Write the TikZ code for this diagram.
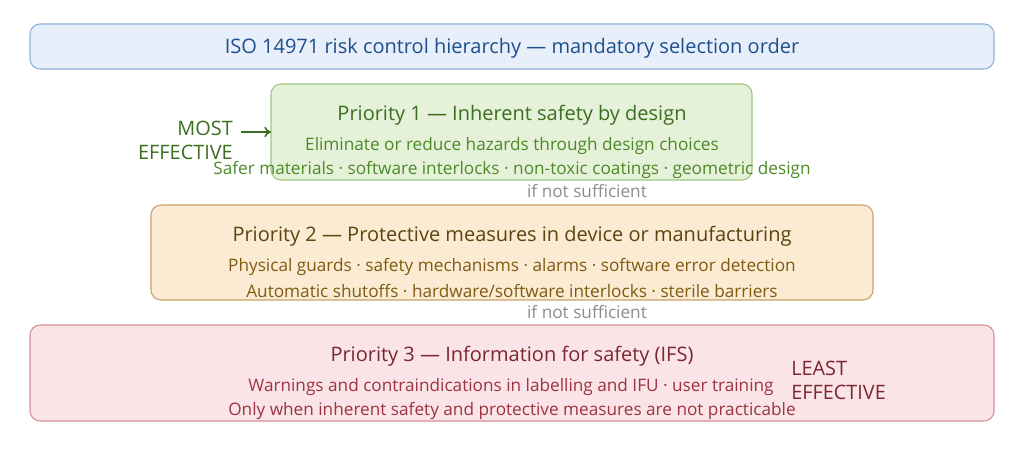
\documentclass[tikz,border=0pt]{standalone}
\usepackage{fontspec}
\setmainfont{Open Sans}
\usetikzlibrary{arrows.meta}
\definecolor{bfill}{HTML}{E7EFFA}
\definecolor{bdraw}{HTML}{8DB0DD}
\definecolor{btext}{HTML}{1F4E8C}
\definecolor{gfill}{HTML}{E6F1DA}
\definecolor{gdraw}{HTML}{9BC77C}
\definecolor{gtitle}{HTML}{3B6E1E}
\definecolor{gtext}{HTML}{4C8A27}
\definecolor{ofill}{HTML}{FBEBD2}
\definecolor{odraw}{HTML}{C8A26A}
\definecolor{otitle}{HTML}{5E4310}
\definecolor{otext}{HTML}{7F5B12}
\definecolor{rfill}{HTML}{FBE4E7}
\definecolor{rdraw}{HTML}{D58E96}
\definecolor{rtitle}{HTML}{7A2630}
\definecolor{rtext}{HTML}{9B3440}
\definecolor{note}{HTML}{8C8C8C}
\tikzset{
  panel/.style={rounded corners=7.5pt, line width=0.8pt},
  titletext/.style={font=\fontsize{15pt}{18pt}\selectfont, inner sep=0pt},
  subtext/.style={font=\fontsize{12.9pt}{15pt}\selectfont, inner sep=0pt},
  notetext/.style={font=\fontsize{12.9pt}{15pt}\selectfont, inner sep=0pt, text=note},
  sidetext/.style={font=\fontsize{14.9pt}{18pt}\selectfont, inner sep=0pt},
}
\begin{document}
\begin{tikzpicture}[x=0.75pt,y=-0.75pt]
\useasboundingbox (0,0) rectangle (1024,452);
% title
\draw[panel, fill=bfill, draw=bdraw] (30,24) rectangle (994,69);
\node[titletext, text=btext] (title) at (512,48) {ISO 14971 risk control hierarchy — mandatory selection order};
% priority 1
\draw[panel, fill=gfill, draw=gdraw] (271,84) rectangle (752,180);
\coordinate (p1w) at (271,132);
\node[titletext, text=gtitle] (p1t) at (512,115) {Priority 1 — Inherent safety by design};
\node[subtext, text=gtext] (p1a) at (512,146) {Eliminate or reduce hazards through design choices};
\node[subtext, text=gtext] (p1b) at (512,170) {Safer materials · software interlocks · non-toxic coatings · geometric design};
\node[notetext] (n1) at (587,191) {if not sufficient};
% most effective
\node[sidetext, text=gtitle, align=right, anchor=east] (most) at (233,140) {MOST\\EFFECTIVE};
\coordinate (arrs) at (241,132);
\draw[-{To[length=5pt,width=8pt]}, gtitle, line width=1.2pt] (arrs) -- (p1w);
% priority 2
\draw[panel, fill=ofill, draw=odraw] (151,205) rectangle (873,300);
\node[titletext, text=otitle] (p2t) at (512,236) {Priority 2 — Protective measures in device or manufacturing};
\node[subtext, text=otext] (p2a) at (512,267) {Physical guards · safety mechanisms · alarms · software error detection};
\node[subtext, text=otext] (p2b) at (512,291) {Automatic shutoffs · hardware/software interlocks · sterile barriers};
\node[notetext] (n2) at (587,312) {if not sufficient};
% priority 3
\draw[panel, fill=rfill, draw=rdraw] (30,325) rectangle (994,421);
\node[titletext, text=rtitle] (p3t) at (512,356) {Priority 3 — Information for safety (IFS)};
\node[subtext, text=rtext] (p3a) at (511,387) {Warnings and contraindications in labelling and IFU · user training};
\node[subtext, text=rtext] (p3b) at (512,411) {Only when inherent safety and protective measures are not practicable};
\node[sidetext, text=rtitle, align=left, anchor=west] (least) at (791,380) {LEAST\\EFFECTIVE};
\end{tikzpicture}
\end{document}
